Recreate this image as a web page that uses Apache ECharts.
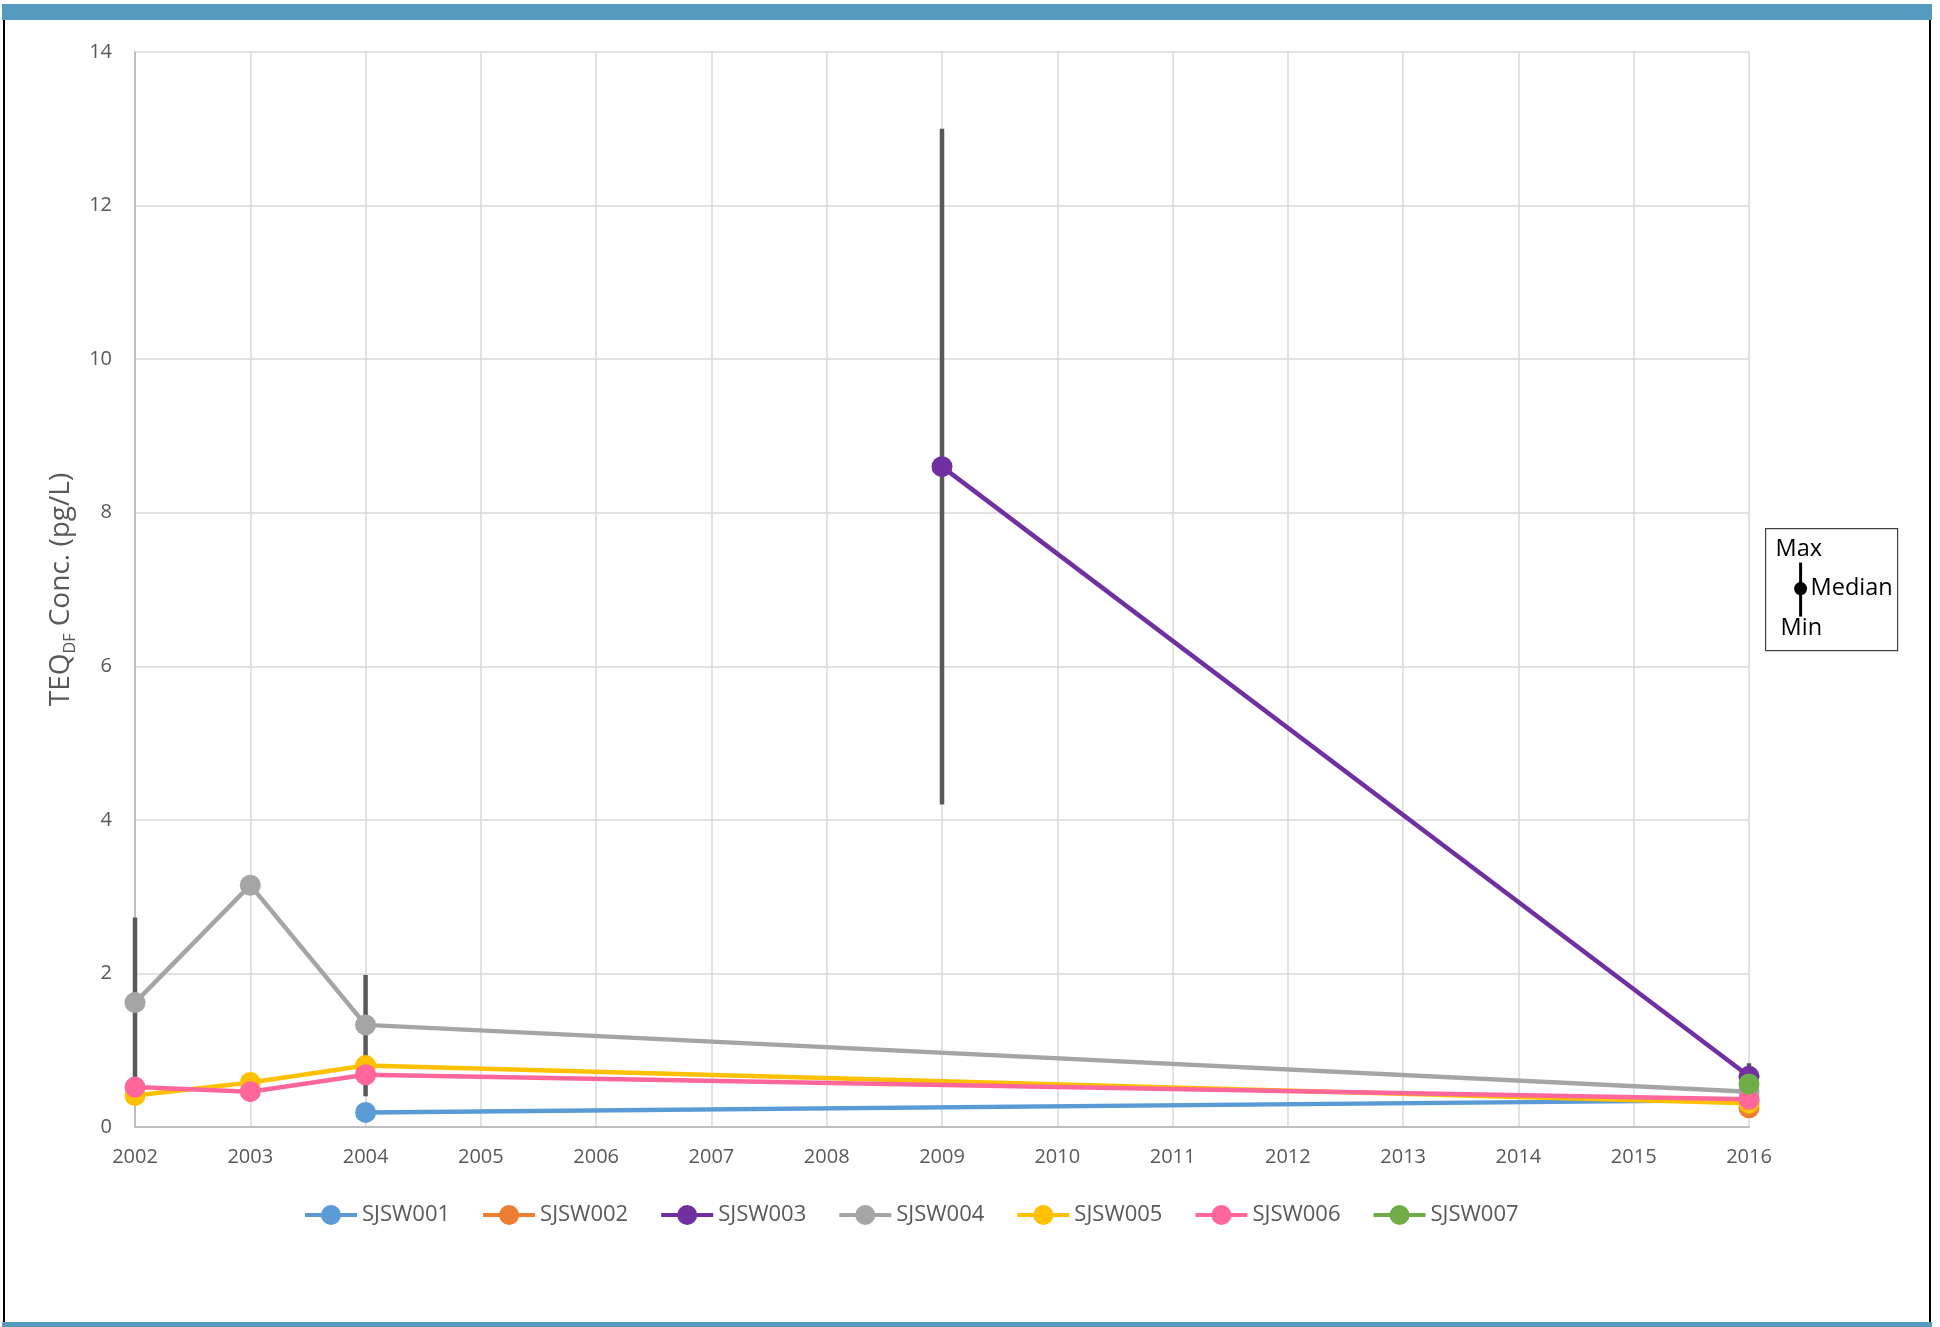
<!DOCTYPE html>
<html>
<head>
<meta charset="utf-8">
<script src="https://cdn.jsdelivr.net/npm/echarts@6/dist/echarts.min.js"></script>
<style>
  html, body { margin: 0; padding: 0; background: #ffffff; }
  #chart { width: 1940px; height: 1327px; }
</style>
</head>
<body>
<div id="chart"></div>
<script>
// Sampling years and y-axis ticks
const years = [2002, 2003, 2004, 2005, 2006, 2007, 2008, 2009, 2010, 2011, 2012, 2013, 2014, 2015, 2016];
const yTicks = [0, 2, 4, 6, 8, 10, 12, 14];

// Station names and colours
const stationNames = ['SJSW001', 'SJSW002', 'SJSW003', 'SJSW004', 'SJSW005', 'SJSW006', 'SJSW007'];
const stationColors = ['#5B9BD5', '#ED7D31', '#7030A0', '#A5A5A5', '#FFC000', '#FF6699', '#70AD47'];

// Median TEQ(DF) concentration per station (pg/L)
const sjsw001Years = [2004, 2016];
const sjsw001Values = [0.19, 0.35];
const sjsw002Years = [2016];
const sjsw002Values = [0.25];
const sjsw003Years = [2009, 2016];
const sjsw003Values = [8.6, 0.66];
const sjsw004Years = [2002, 2003, 2004, 2016];
const sjsw004Values = [1.62, 3.15, 1.33, 0.46];
const sjsw005Years = [2002, 2003, 2004, 2016];
const sjsw005Values = [0.41, 0.58, 0.80, 0.31];
const sjsw006Years = [2002, 2003, 2004, 2016];
const sjsw006Values = [0.52, 0.46, 0.68, 0.36];
const sjsw007Years = [2016];
const sjsw007Values = [0.56];

// Min / max range bars
const rangeYears = [2002, 2004, 2009, 2016];
const rangeMin = [0.41, 0.40, 4.2, 0.25];
const rangeMax = [2.73, 1.98, 13.0, 0.83];

const stationYears = [sjsw001Years, sjsw002Years, sjsw003Years, sjsw004Years, sjsw005Years, sjsw006Years, sjsw007Years];
const stationValues = [sjsw001Values, sjsw002Values, sjsw003Values, sjsw004Values, sjsw005Values, sjsw006Values, sjsw007Values];

const FONT = '"Open Sans", "Noto Sans", sans-serif';
const TEXT_GREY = '#595959';
const FRAME_BLUE = '#559BBF';

const chart = echarts.init(document.getElementById('chart'), null, { renderer: 'canvas' });

const lineSeries = stationNames.map((name, i) => ({
  name: name,
  type: 'line',
  z: 3,
  symbol: 'circle',
  symbolSize: 21,
  data: stationYears[i].map((y, k) => [y, stationValues[i][k]]),
  lineStyle: { color: stationColors[i], width: 4.5 },
  itemStyle: { color: stationColors[i] },
  emphasis: { disabled: true }
}));

const rangeSeries = {
  name: 'range',
  type: 'custom',
  z: 2,
  silent: true,
  data: rangeYears.map((y, k) => [y, rangeMin[k], rangeMax[k]]),
  encode: { x: 0, y: [1, 2] },
  renderItem: function (params, api) {
    const lo = api.coord([api.value(0), api.value(1)]);
    const hi = api.coord([api.value(0), api.value(2)]);
    return {
      type: 'line',
      shape: { x1: lo[0], y1: lo[1], x2: hi[0], y2: hi[1] },
      style: { stroke: '#595959', lineWidth: 4.5 }
    };
  }
};

const option = {
  animation: false,
  backgroundColor: '#ffffff',
  textStyle: { fontFamily: FONT },
  grid: { left: 135, right: 191, top: 52, bottom: 200, containLabel: false },
  xAxis: {
    type: 'value',
    min: years[0],
    max: years[years.length - 1],
    interval: 1,
    axisLine: { show: true, lineStyle: { color: '#BFBFBF', width: 2 } },
    axisTick: { show: false },
    axisLabel: {
      color: TEXT_GREY, fontSize: 20, fontFamily: FONT, margin: 20,
      showMinLabel: true, showMaxLabel: true,
      formatter: v => String(v)
    },
    splitLine: { show: true, lineStyle: { color: '#D9D9D9', width: 1.5 } }
  },
  yAxis: {
    type: 'value',
    min: yTicks[0],
    max: yTicks[yTicks.length - 1],
    interval: 2,
    axisLine: { show: true, lineStyle: { color: '#BFBFBF', width: 2 } },
    axisTick: { show: false },
    axisLabel: { color: TEXT_GREY, fontSize: 20, fontFamily: FONT, margin: 23 },
    splitLine: { show: true, lineStyle: { color: '#D9D9D9', width: 1.5 } },
    name: '{a|TEQ}{b|DF}{a| Conc. (pg/L)}',
    nameLocation: 'middle',
    nameGap: 55,
    nameTextStyle: {
      color: TEXT_GREY,
      fontFamily: FONT,
      rich: {
        a: { fontSize: 28, color: TEXT_GREY, fontFamily: FONT, lineHeight: 34, verticalAlign: 'middle' },
        b: { fontSize: 16, color: TEXT_GREY, fontFamily: FONT, lineHeight: 15, verticalAlign: 'bottom' }
      }
    }
  },
  legend: {
    data: stationNames,
    left: 298,
    top: 1199,
    orient: 'horizontal',
    itemWidth: 52,
    itemHeight: 25,
    itemGap: 31,
    selectedMode: false,
    lineStyle: { width: 4 },
    textStyle: { color: TEXT_GREY, fontSize: 22, fontFamily: FONT }
  },
  graphic: [
    // page frame
    { type: 'rect', silent: true, shape: { x: 2, y: 4, width: 1930, height: 16 }, style: { fill: FRAME_BLUE } },
    { type: 'rect', silent: true, shape: { x: 2, y: 1322, width: 1930, height: 5 }, style: { fill: FRAME_BLUE } },
    { type: 'rect', silent: true, shape: { x: 3, y: 20, width: 2, height: 1302 }, style: { fill: '#000000' } },
    { type: 'rect', silent: true, shape: { x: 1929, y: 20, width: 2, height: 1302 }, style: { fill: '#000000' } },
    // key for the range bars
    {
      type: 'group', silent: true, left: 1765, top: 528,
      children: [
        { type: 'rect', shape: { x: 0, y: 0, width: 132, height: 122 }, style: { fill: '#ffffff', stroke: '#404040', lineWidth: 1.2 } },
        { type: 'line', shape: { x1: 35, y1: 34, x2: 35, y2: 88 }, style: { stroke: '#000000', lineWidth: 3 } },
        { type: 'circle', shape: { cx: 35, cy: 60, r: 6.5 }, style: { fill: '#000000' } },
        { type: 'text', style: { x: 10, y: 21, text: 'Max', fill: '#000000', font: '23.5px ' + FONT, verticalAlign: 'middle' } },
        { type: 'text', style: { x: 45, y: 60, text: 'Median', fill: '#000000', font: '23.5px ' + FONT, verticalAlign: 'middle' } },
        { type: 'text', style: { x: 15, y: 100, text: 'Min', fill: '#000000', font: '23.5px ' + FONT, verticalAlign: 'middle' } }
      ]
    }
  ],
  series: [rangeSeries].concat(lineSeries)
};

chart.setOption(option);
</script>
</body>
</html>
